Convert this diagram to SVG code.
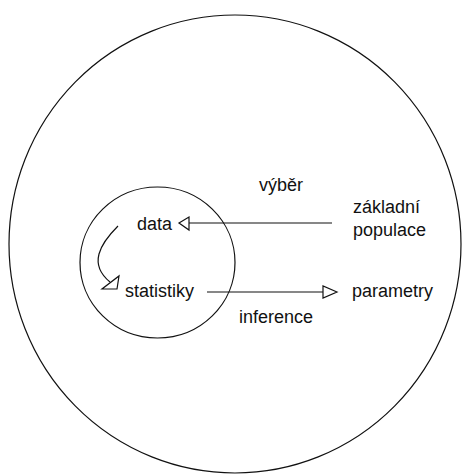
<svg xmlns="http://www.w3.org/2000/svg" width="462" height="475" viewBox="0 0 462 475">
<style>
.ln{fill:none;stroke:#111;stroke-width:1.2}
.hd{fill:#fff;stroke:#111;stroke-width:1.2;stroke-linejoin:miter}
text{font-family:"Liberation Sans",Arial,sans-serif;font-size:18px;fill:#111}
</style>
<rect width="462" height="475" fill="#fff"/>
<g id="populace-circle"><ellipse class="ln" cx="235" cy="244" rx="226" ry="229"/></g>
<g id="vyber-circle"><ellipse class="ln" cx="157.5" cy="262.5" rx="77.5" ry="75.5"/></g>
<g id="connectors">
  <line class="ln" x1="332" y1="223" x2="189" y2="223"/>
  <polygon class="hd" points="179,223 189,217 189,230"/>
  <line class="ln" x1="207" y1="292" x2="323" y2="292"/>
  <polygon class="hd" points="337,292 323,286 323,298"/>
  <path class="ln" d="M118,226 C100,244 88,264 110,282"/>
  <polygon class="hd" points="117,289 119,276 102,289"/>
</g>
<g id="data"><text x="137" y="230">data</text></g>
<g id="statistiky"><text x="125" y="297">statistiky</text></g>
<g id="parametry"><text x="352" y="297">parametry</text></g>
<g id="zakladni-populace"><text x="353" y="213">základní</text><text x="353" y="236">populace</text></g>
<g id="labels"><text x="259" y="191">výběr</text><text x="239" y="323">inference</text></g>
</svg>
